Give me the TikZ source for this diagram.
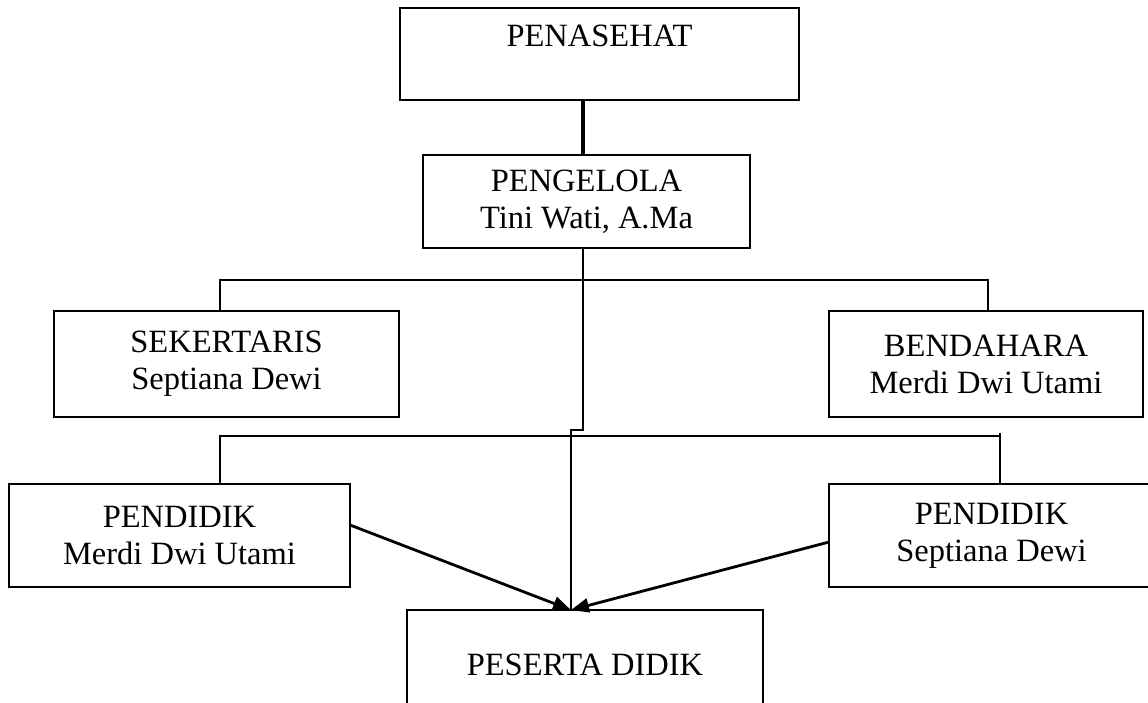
\documentclass[tikz,border=0pt]{standalone}
\usepackage{fontspec}
\setmainfont{Liberation Serif}
\usetikzlibrary{arrows.meta}
\begin{document}
\begin{tikzpicture}[x=1pt,y=-1pt,
  box/.style={draw, line width=2.1pt, inner sep=0pt, outer sep=0pt, align=center,
    font=\fontsize{32.5}{37}\selectfont},
  conn/.style={line width=2.1pt},
  thickconn/.style={line width=4.2pt},
  arr/.style={line width=2.8pt, -{Triangle[length=18pt,width=14pt]}}]
\useasboundingbox (0,0) rectangle (1148,702);
\fill[white] (0,0) rectangle (1148,702);
\node[box, minimum width=399pt, minimum height=92pt] (pen) at (599.5,54) {PENASEHAT\\~};
\node[box, minimum width=327pt, minimum height=93pt] (pgl) at (586.5,201.5) {PENGELOLA\\Tini Wati, A.Ma};
\node[box, minimum width=345pt, minimum height=106pt] (sek) at (226.5,364) {SEKERTARIS\\Septiana Dewi};
\node[box, minimum width=314pt, minimum height=106pt] (ben) at (986,364) {BENDAHARA\\Merdi Dwi Utami};
\node[box, minimum width=341pt, minimum height=103pt] (pdl) at (179.5,535.5) {PENDIDIK\\Merdi Dwi Utami};
\node[box, minimum width=325pt, minimum height=103pt] (pdr) at (991.5,535.5) {PENDIDIK\\Septiana Dewi};
\node[box, minimum width=356pt, minimum height=110pt] (pes) at (585,665) {PESERTA DIDIK};
% penasehat - pengelola
\draw[thickconn] ([xshift=-16.5pt]pen.south) -- ([xshift=-3.5pt]pgl.north);
% trunk to peserta didik
\draw[conn, line width=1.7pt] ([xshift=-3.5pt]pgl.south) -- ++(0,182) -- ++(-12,0) -- ([xshift=-14pt]pes.north);
% bus to sekertaris / bendahara
\draw[conn] ([xshift=-6.5pt]sek.north) -- ++(0,-31) -| ([xshift=2pt]ben.north);
% bus to pendidik
\draw[conn] ([xshift=40.5pt]pdl.north) -- ++(0,-48) -| ([xshift=8.5pt]pdr.north);
\draw[conn] ([xshift=8.5pt]pdr.north) -- ++(0,-51);
% arrows
\draw[arr] ([yshift=10.5pt]pdl.east) -- ([xshift=-14pt]pes.north);
\draw[arr] ([yshift=-6.5pt]pdr.west) -- ([xshift=-14pt]pes.north);
\end{tikzpicture}
\end{document}
